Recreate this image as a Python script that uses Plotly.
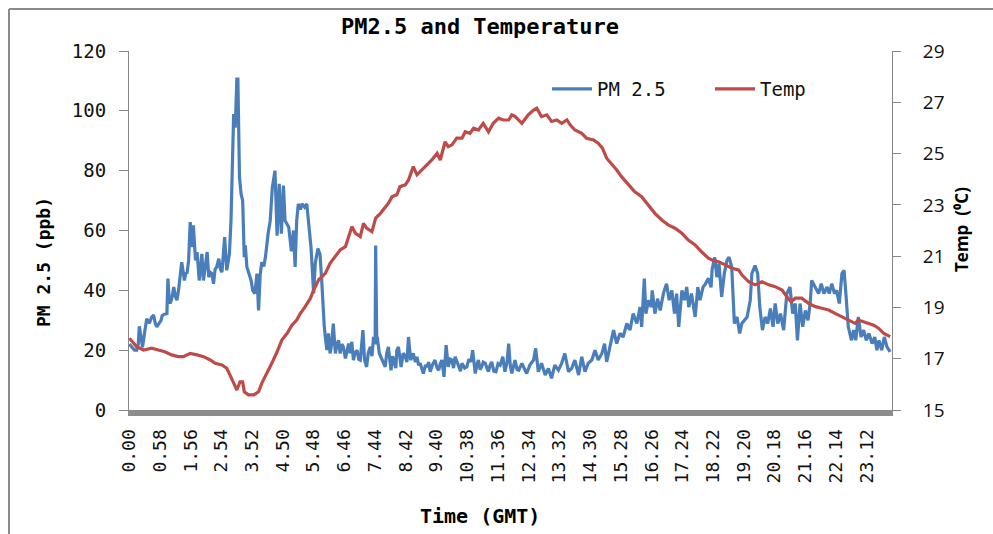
import plotly.graph_objects as go

# ---- x-axis tick labels (every 58 minutes) ----
tick_minutes = [i * 58 for i in range(25)]
tick_labels = ["0.00", "0.58", "1.56", "2.54", "3.52", "4.50", "5.48", "6.46", "7.44",
               "8.42", "9.40", "10.38", "11.36", "12.34", "13.32", "14.30", "15.28",
               "16.26", "17.24", "18.22", "19.20", "20.18", "21.16", "22.14", "23.12"]

# ---- PM 2.5 (minute of day, value) ----
pm_min = [0, 5, 10, 14, 17, 19, 22, 25, 29, 33, 38, 42, 46, 49, 52, 56, 60, 62, 66, 71,
          73, 75, 77, 80, 84, 87, 90, 93, 96, 99, 102, 104, 107, 109, 112, 115, 117, 118,
          121, 123, 125, 128, 130, 132, 135, 137, 140, 143, 147, 150, 153, 156, 159, 162,
          165, 169, 172, 175, 178, 180, 184, 187, 189, 192, 194, 196, 197, 200, 202, 203,
          205, 208, 211, 214, 217, 219, 222, 226, 230, 233, 237, 241, 244, 247, 250, 254,
          257, 262, 266, 270, 275, 279, 283, 287, 291, 294, 298, 301, 306, 310, 313, 316,
          319, 323, 326, 331, 335, 340, 343, 348, 351, 356, 360, 363, 366, 368, 370,
          373, 376, 379, 382, 385, 389, 392, 395, 398, 401, 404, 408, 411, 414, 417, 420,
          423, 426, 430, 433, 436, 441, 444, 448, 451, 455, 458, 461, 464, 465, 466, 467,
          468, 472, 477, 480, 483, 486, 489, 494, 497, 499, 503, 505, 508, 513, 517, 521,
          524, 527, 531, 536, 540, 543, 546, 549, 552, 555, 559, 562, 565, 568, 572, 577,
          581, 584, 587, 590, 594, 598, 602, 606, 609, 612, 615, 618, 621, 625, 628, 633,
          637, 641, 645, 648, 653, 656, 659, 662, 665, 668, 672, 675, 678, 681, 684, 688,
          692, 696, 700, 705, 709, 713, 716, 719, 722, 725, 728, 732, 735,
          741, 750, 756, 763, 767, 772, 778, 785, 791, 797, 803, 810, 816, 822, 829, 835,
          841, 848, 854, 860, 866, 873, 879, 885, 892, 897, 901, 907, 914, 920, 926, 932,
          939, 945, 951, 958, 964, 967, 972, 975, 980, 985, 987, 992, 997, 1002, 1008,
          1014, 1019, 1024, 1029, 1033, 1037, 1043, 1048, 1052, 1056, 1061, 1068, 1073,
          1077, 1083, 1087, 1093, 1098, 1100, 1105,
          1109, 1113, 1118, 1123, 1128, 1132, 1137, 1142, 1147, 1152, 1156, 1161, 1166,
          1172, 1175, 1181, 1186, 1190, 1195, 1200, 1205, 1210, 1215, 1219, 1224, 1229,
          1235, 1241, 1247, 1252, 1257, 1261, 1266, 1271, 1276, 1281, 1285, 1288, 1295,
          1301, 1306, 1311, 1317, 1321, 1326, 1331, 1335, 1340, 1345, 1349, 1352, 1357,
          1363, 1367, 1371, 1376, 1381, 1386, 1391, 1396, 1402, 1407, 1411, 1415, 1420,
          1425, 1430, 1436]
pm_val = [22, 21, 20, 20, 22, 28, 24, 21, 26, 30.5, 29, 31, 31.7, 29, 27.8, 29, 30, 31.5, 32, 32.2,
          43.9, 38, 35.6, 37, 41.1, 38, 36.7, 40, 44, 49.4, 46, 43.3, 46, 45.6, 50, 62.8, 58, 54.4,
          61.7, 57, 50, 52.8, 48, 43.3, 48, 52.2, 43.3, 47, 52.8, 44.4, 46, 45.6, 42.2, 47,
          47.8, 50.6, 47, 46.1, 52, 57.8, 46.7, 50, 52.2, 63.3, 80, 94, 98.9, 94.4, 104, 110.6,
          110.6, 77.8, 72.2, 70, 51.1, 55, 47.8, 45.6, 43.3, 40, 38.9, 45.6, 33.3, 45, 49.4, 48,
          51.1, 58.9, 63.3, 74.4, 80, 58.3, 75.6, 58.9, 75, 63.3, 62, 61.1, 53, 60, 47.8, 63.3,
          68.9, 67, 68.9, 67.8, 68.9, 60, 54.4, 39, 49, 54, 52, 44, 33, 28, 24.4,
          20, 25.6, 18.9, 22, 28.9, 18.9, 22, 23.3, 18.9, 22, 21.1, 17.2, 20, 22.2, 19, 22.8,
          16.7, 19, 20, 17, 16.7, 26.7, 16.7, 14.4, 19, 21.1, 18, 24.4, 22, 55, 40, 24,
          24.4, 18.9, 16.7, 15.5, 14.4, 19, 21.1, 13.3, 18, 16.7, 14, 20, 21.1, 14.4, 19, 17.8,
          16, 24.4, 16.7, 18.9, 16, 17.8, 15, 15.6, 14, 12.2, 15, 14.4, 16, 12.8, 15, 16.7,
          14, 13.3, 15.5, 16.7, 11.1, 21.7, 14.4, 17, 16.7, 14, 17.8, 16, 15, 13, 15.6, 14,
          14.4, 17, 16.1, 20, 12.2, 15, 16.7, 13.5, 14.4, 16, 15.6, 14, 12.8, 15, 16.1, 13,
          12.8, 15.5, 15, 17.8, 12.8, 16, 22.2, 15, 12.2, 14.5, 16.7, 13.5, 13.3,
          15.6, 12.2, 15, 16.7, 20.6, 12.8, 15.6, 11.7, 13.9, 10.6, 15, 13.3, 15.6, 18.9, 12.8, 13.9,
          16.7, 11.7, 17.8, 12.8, 15.6, 16.7, 20, 16.7, 18.9, 22.2, 16.1, 21.1, 26.7, 22.2, 25.6, 24.4,
          28.9, 26.7, 32.2, 28.9, 34.4, 27.8, 43.9, 32.2, 36.7, 34.4, 40, 32.2, 37.2, 33.3, 38.9,
          42.2, 36.7, 40, 32.2, 38.9, 27.8, 40, 36.7, 41.1, 34.4, 38.9, 31.1, 41.1,
          36.7, 41.1, 42, 44, 41, 47, 51,
          44.4, 48.9, 37.8, 45.6, 50, 51.1, 47.8, 28.9, 31.1, 25.6, 28.9, 30, 31.1,
          36.7, 45.6, 48.3, 45.6, 34.4, 26.7, 31.1, 28.9, 33.9, 27.8, 35.6, 28.9, 32.2,
          26.7, 38.9, 41.1, 32.2, 35.6, 23.3, 35.6, 27.8, 33.3, 30, 35.6, 43.3, 41.1,
          38.9, 42.2, 38.9, 41.1, 38.9, 42.2, 38.9, 40, 35.6, 45.6, 46.7, 40, 27.8,
          23.3, 26.7, 23.3, 31.1, 24.4, 26.7, 23.3, 25.6, 22.2, 24.4, 20, 23.3, 20,
          24.4, 21.1, 19.4]

# ---- Temperature (minute of day, value) ----
t_min = [0, 6, 14, 27, 42, 55, 67, 80, 92, 102, 115, 128, 140, 153, 162, 175, 184, 190, 197,
         203, 209, 214, 217, 225, 235, 244, 250, 260, 269, 279, 288, 298, 307, 316, 323, 332,
         342, 348, 358, 364, 370, 379, 389, 398, 408, 414, 420, 427, 436, 442, 448, 458, 465,
         474, 483, 489, 496, 505, 511, 521, 527, 536, 543, 552, 562, 571, 581, 587, 596, 602,
         609, 618, 628, 634, 643, 650, 659, 668, 678, 687, 697, 706, 716, 722, 728, 741, 753,
         763, 769, 778, 788, 797, 807, 816, 826, 832, 841, 854, 863, 876, 885, 893, 901, 910,
         920, 929, 942, 954, 967, 980, 992, 1005, 1017, 1030, 1043, 1055, 1068, 1080, 1087,
         1093, 1100, 1112, 1125, 1137, 1150, 1156, 1169, 1181, 1194, 1207, 1219, 1232, 1241,
         1249, 1257, 1269, 1282, 1295, 1307, 1320, 1332, 1345, 1357, 1370, 1376, 1386, 1395,
         1405, 1414, 1424, 1436]
t_val = [17.80, 17.66, 17.47, 17.34, 17.41, 17.34, 17.27, 17.15, 17.08, 17.08, 17.21, 17.15,
         17.08, 16.95, 16.82, 16.76, 16.63, 16.37, 16.04, 15.78, 16.10, 16.10, 15.71, 15.59,
         15.59, 15.71, 16.04, 16.43, 16.82, 17.27, 17.73, 17.99, 18.31, 18.51, 18.77, 19.03,
         19.36, 19.68, 20.10, 20.20, 20.33, 20.72, 20.98, 21.24, 21.37, 21.76, 22.15, 21.89,
         21.76, 22.28, 22.09, 21.95, 22.48, 22.67, 22.93, 23.06, 23.32, 23.39, 23.71, 23.78,
         23.97, 24.49, 24.17, 24.36, 24.56, 24.75, 25.01, 24.75, 25.46, 25.27, 25.34, 25.60,
         25.60, 25.85, 25.79, 25.99, 25.92, 26.18, 25.85, 26.18, 26.38, 26.31, 26.31, 26.51,
         26.45, 26.18, 26.51, 26.70, 26.77, 26.44, 26.51, 26.25, 26.31, 26.18, 26.31, 26.12,
         25.92, 25.79, 25.60, 25.53, 25.40, 25.21, 24.82, 24.62, 24.36, 24.10, 23.78, 23.51,
         23.32, 23.00, 22.67, 22.41, 22.22, 22.09, 21.89, 21.63, 21.44, 21.17, 21.05, 20.92,
         20.85, 20.78, 20.66, 20.53, 20.46, 20.27, 20.00, 19.88, 20.00, 19.88, 19.81, 19.68,
         19.42, 19.22, 19.36, 19.36, 19.16, 19.03, 18.97, 18.90, 18.77, 18.64, 18.51, 18.38,
         18.51, 18.44, 18.38, 18.31, 18.19, 17.99, 17.86]

BLUE = "#4A7EBB"
RED = "#BE4B48"
MONO = "DejaVu Sans Mono"
SANS = "Open Sans"

fig = go.Figure()
fig.add_trace(go.Scatter(x=pm_min, y=pm_val, mode="lines", name="PM 2.5",
                         line=dict(color=BLUE, width=3.2)))
fig.add_trace(go.Scatter(x=t_min, y=t_val, mode="lines", name="Temp", yaxis="y2",
                         line=dict(color=RED, width=3.2)))

W, H = 993, 534
L, R, T, B = 129, 892, 51, 410   # plot area in window pixels
pw, ph = R - L, B - T

def px(xp):
    return (xp - L) / pw

def py(yp):
    return (B - yp) / ph

fig.update_layout(
    width=W, height=H,
    margin=dict(l=L, r=W - R, t=T, b=H - B, pad=0),
    paper_bgcolor="white", plot_bgcolor="white",
    showlegend=True,
    legend=dict(orientation="h", x=px(547), y=py(89), xanchor="left", yanchor="middle",
                font=dict(family=MONO, size=19, color="#111"),
                bgcolor="rgba(0,0,0,0)", entrywidth=108, itemwidth=40),
    title=dict(text="<b>PM2.5 and Temperature</b>", x=480 / W, xref="container",
               xanchor="center", y=1 - 26 / H, yref="container", yanchor="middle",
               font=dict(family=MONO, size=22, color="#000")),
    xaxis=dict(range=[-0.5, 1439.5], tickmode="array", tickvals=tick_minutes,
               ticktext=tick_labels, tickangle=-90, ticks="", showgrid=False,
               zeroline=False, showline=True, linecolor="#8C8C8C", linewidth=6,
               ticklabelstandoff=6,
               tickfont=dict(family=MONO, size=18, color="#111")),
    yaxis=dict(range=[0, 120], tickvals=[0, 20, 40, 60, 80, 100, 120], ticks="outside",
               ticklen=9, tickcolor="#868686", showgrid=False, zeroline=False,
               showline=True, linecolor="#868686", linewidth=1, ticklabelstandoff=9,
               tickfont=dict(family=MONO, size=19, color="#111")),
    yaxis2=dict(range=[15, 29], tickvals=[15, 17, 19, 21, 23, 25, 27, 29], overlaying="y",
                side="right", ticks="outside", ticklen=8, tickcolor="#868686",
                showgrid=False, zeroline=False, showline=True, linecolor="#868686",
                linewidth=1, ticklabelstandoff=18,
                tickfont=dict(family=SANS, size=19, color="#111")),
    annotations=[
        dict(text="<b>Time (GMT)</b>", x=px(480), y=py(516), xref="paper", yref="paper",
             showarrow=False, xanchor="center", yanchor="middle",
             font=dict(family=MONO, size=20, color="#000")),
        dict(text="<b>PM 2.5 (ppb)</b>", x=px(43), y=py(262), xref="paper", yref="paper",
             showarrow=False, textangle=-90, xanchor="center", yanchor="middle",
             font=dict(family=MONO, size=18, color="#000")),
        dict(text="<b>Temp  (⁰C)</b>", x=px(961), y=py(230), xref="paper", yref="paper",
             showarrow=False, textangle=-90, xanchor="center", yanchor="middle",
             font=dict(family=SANS, size=17, color="#000")),
    ],
    shapes=[
        dict(type="line", xref="paper", yref="paper", x0=px(9), x1=px(1000),
             y0=py(9), y1=py(9), line=dict(color="#8A8A8A", width=2)),
        dict(type="line", xref="paper", yref="paper", x0=px(9), x1=px(9),
             y0=py(9), y1=py(560), line=dict(color="#8A8A8A", width=2)),
    ],
)

fig.write_html(
    "out.html",
    config={"displayModeBar": False},
    post_script="document.body.style.margin='0';document.body.style.overflow='hidden';",
)
